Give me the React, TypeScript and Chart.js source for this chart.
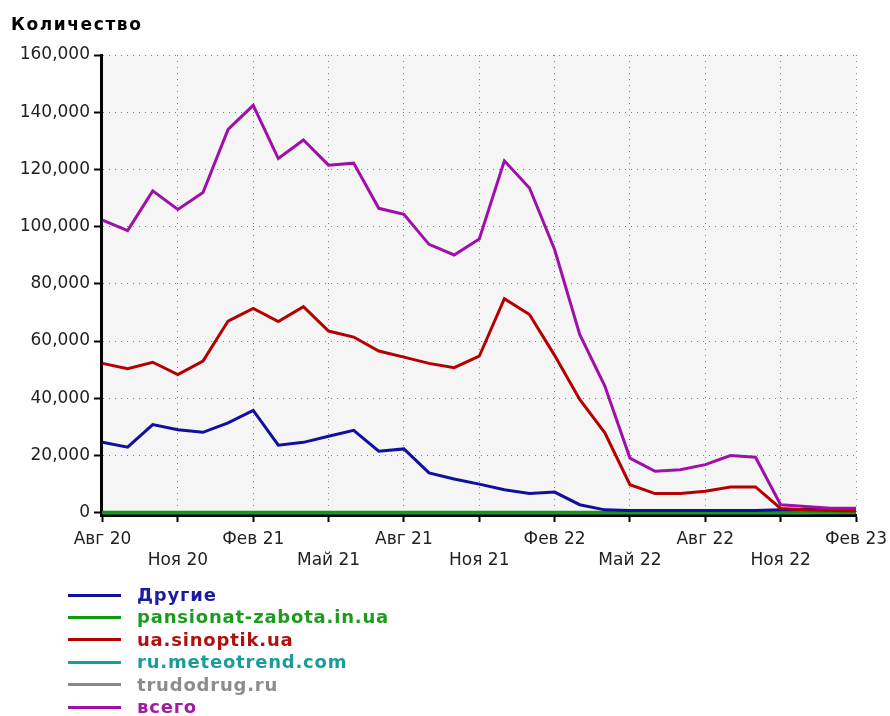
import React, { useEffect, useRef } from 'react';
import { Chart, registerables } from 'chart.js';

Chart.register(...registerables);

// ---- data -------------------------------------------------------------
const months = [
  'Авг 20', 'Сен 20', 'Окт 20', 'Ноя 20', 'Дек 20', 'Янв 21', 'Фев 21',
  'Мар 21', 'Апр 21', 'Май 21', 'Июн 21', 'Июл 21', 'Авг 21', 'Сен 21',
  'Окт 21', 'Ноя 21', 'Дек 21', 'Янв 22', 'Фев 22', 'Мар 22', 'Апр 22',
  'Май 22', 'Июн 22', 'Июл 22', 'Авг 22', 'Сен 22', 'Окт 22', 'Ноя 22',
  'Дек 22', 'Янв 23', 'Фев 23',
];

const seriesNames = [
  'Другие',
  'pansionat-zabota.in.ua',
  'ua.sinoptik.ua',
  'ru.meteotrend.com',
  'trudodrug.ru',
  'всего',
];

const drugie = [
  24600, 22900, 30800, 29000, 28100, 31400, 35800, 23600, 24600, 26700, 28800,
  21500, 22300, 13900, 11800, 10000, 8000, 6700, 7200, 2800, 1000, 800, 800,
  800, 800, 800, 800, 1000, 1100, 1100, 1100,
];

const pansionat = [
  200, 200, 200, 200, 200, 200, 200, 200, 200, 200, 200, 200, 200, 200, 200,
  200, 200, 200, 200, 200, 200, 200, 200, 200, 200, 200, 200, 200, 400, 400,
  150,
];

const sinoptik = [
  52200, 50300, 52600, 48300, 53000, 67000, 71400, 66800, 72000, 63500, 61400,
  56500, 54400, 52200, 50700, 54700, 74800, 69300, 55000, 39600, 27900, 9800,
  6700, 6700, 7500, 9000, 9000, 1500, 1000, 800, 600,
];

const meteotrend = [
  0, 0, 0, 0, 0, 0, 0, 0, 0, 0, 0, 0, 0, 0, 0, 0, 0, 0, 0, 0, 0, 0, 0, 0, 0,
  0, 0, 0, 0, 0, 0,
];

const trudodrug = [
  0, 0, 0, 0, 0, 0, 0, 0, 0, 0, 0, 0, 0, 0, 0, 0, 0, 0, 0, 0, 0, 0, 0, 0, 0,
  0, 0, 0, 0, 200, 250,
];

const vsego = [
  102300, 98600, 112500, 106000, 111900, 134000, 142400, 123800, 130300,
  121500, 122200, 106400, 104300, 93800, 90100, 95700, 123000, 113500, 92000,
  62300, 44300, 19100, 14500, 15000, 16800, 20000, 19400, 2800, 2200, 1600,
  1600,
];

const xTickValues = [0, 3, 6, 9, 12, 15, 18, 21, 24, 27, 30];
const yTickValues = [0, 20000, 40000, 60000, 80000, 100000, 120000, 140000, 160000];

// ---- styles -----------------------------------------------------------
const lineColors = ['#10109c', '#0c9c0c', '#b40000', '#10a0a0', '#888888', '#a010a8'];
const textColors = ['#1c1ca0', '#1c9c1c', '#b01010', '#1a9c9c', '#8c8c8c', '#a01ca0'];
const drawOrder = [3, 4, 2, 5, 6, 1];
const seriesValues = [drugie, pansionat, sinoptik, meteotrend, trudodrug, vsego];

const FONT = "'DejaVu Sans', sans-serif";

const plotBackground = {
  id: 'plotBackground',
  beforeDraw(chart: any) {
    const { ctx, chartArea } = chart;
    if (!chartArea) return;
    ctx.save();
    ctx.fillStyle = '#f5f5f5';
    ctx.fillRect(chartArea.left, chartArea.top, chartArea.right - chartArea.left, chartArea.bottom - chartArea.top);
    ctx.restore();
  },
};

export default function App() {
  const canvasRef = useRef<HTMLCanvasElement | null>(null);

  useEffect(() => {
    if (!canvasRef.current) return;
    const datasets = seriesNames.map((name, si) => ({
      label: name,
      data: seriesValues[si].map((v, i) => ({ x: i, y: v })),
      borderColor: lineColors[si],
      backgroundColor: lineColors[si],
      borderWidth: 3,
      pointRadius: 0,
      tension: 0,
      fill: false,
      order: drawOrder[si],
    }));

    const chart = new Chart(canvasRef.current, {
      type: 'line',
      data: { datasets },
      plugins: [plotBackground],
      options: {
        responsive: false,
        animation: false,
        layout: { padding: { top: 55, right: 34, bottom: 0, left: 0 } },
        plugins: {
          legend: { display: false },
          tooltip: { enabled: false },
          title: { display: false },
        },
        scales: {
          x: {
            type: 'linear',
            min: -0.06,
            max: 30,
            afterFit: (s: any) => {
              s.height = 716 - 515;
              s.paddingLeft = 0;
              s.paddingRight = 0;
            },
            afterBuildTicks: (s: any) => {
              s.ticks = xTickValues.map((v) => ({ value: v }));
            },
            border: { display: true, color: '#000', width: 3, dash: [1, 5] },
            grid: {
              color: '#808080',
              lineWidth: 1,
              tickColor: '#000',
              tickLength: 7,
              tickWidth: 2,
            },
            ticks: {
              autoSkip: false,
              maxRotation: 0,
              padding: 7,
              color: '#222',
              font: { family: FONT, size: 17, lineHeight: 1.24 },
              callback: (value: any) => {
                const idx = Math.round(Number(value));
                const label = months[idx] ?? '';
                return (idx / 3) % 2 === 0 ? [label, ''] : ['', label];
              },
            },
          },
          y: {
            type: 'linear',
            min: -800,
            max: 160000,
            afterFit: (s: any) => {
              s.width = 101;
              s.paddingTop = 0;
              s.paddingBottom = 0;
            },
            afterBuildTicks: (s: any) => {
              s.ticks = yTickValues.map((v) => ({ value: v }));
            },
            border: { display: true, color: '#000', width: 3, dash: [1, 5] },
            grid: {
              color: '#808080',
              lineWidth: 1,
              tickColor: '#000',
              tickLength: 7,
              tickWidth: 2,
            },
            ticks: {
              padding: 4,
              color: '#222',
              font: { family: FONT, size: 17 },
              callback: (value: any) => Number(value).toLocaleString('en-US'),
            },
          },
        },
      } as any,
    });

    return () => {
      chart.destroy();
    };
  }, []);

  return (
    <div
      style={{
        position: 'fixed',
        left: 0,
        top: 0,
        width: 890,
        height: 716,
        background: '#fff',
        overflow: 'hidden',
      }}
    >
      <canvas
        ref={canvasRef}
        width={890}
        height={716}
        style={{ position: 'absolute', left: 0, top: 0, width: 890, height: 716, display: 'block' }}
      />
      <div
        style={{
          position: 'absolute',
          left: 11,
          top: 14,
          font: `bold 17px ${FONT}`,
          lineHeight: '20px',
          letterSpacing: '1.6px',
          color: '#000',
          whiteSpace: 'nowrap',
        }}
      >
        Количество
      </div>
      <div style={{ position: 'absolute', left: 68, top: 584 }}>
        {seriesNames.map((name, i) => (
          <div key={name} style={{ display: 'flex', alignItems: 'center', height: 22.4 }}>
            <div style={{ width: 53, height: 3, background: lineColors[i] }} />
            <div
              style={{
                marginLeft: 16,
                font: `bold 18px ${FONT}`,
                lineHeight: '22.4px',
                letterSpacing: '0.8px',
                color: textColors[i],
                whiteSpace: 'nowrap',
              }}
            >
              {name}
            </div>
          </div>
        ))}
      </div>
    </div>
  );
}
